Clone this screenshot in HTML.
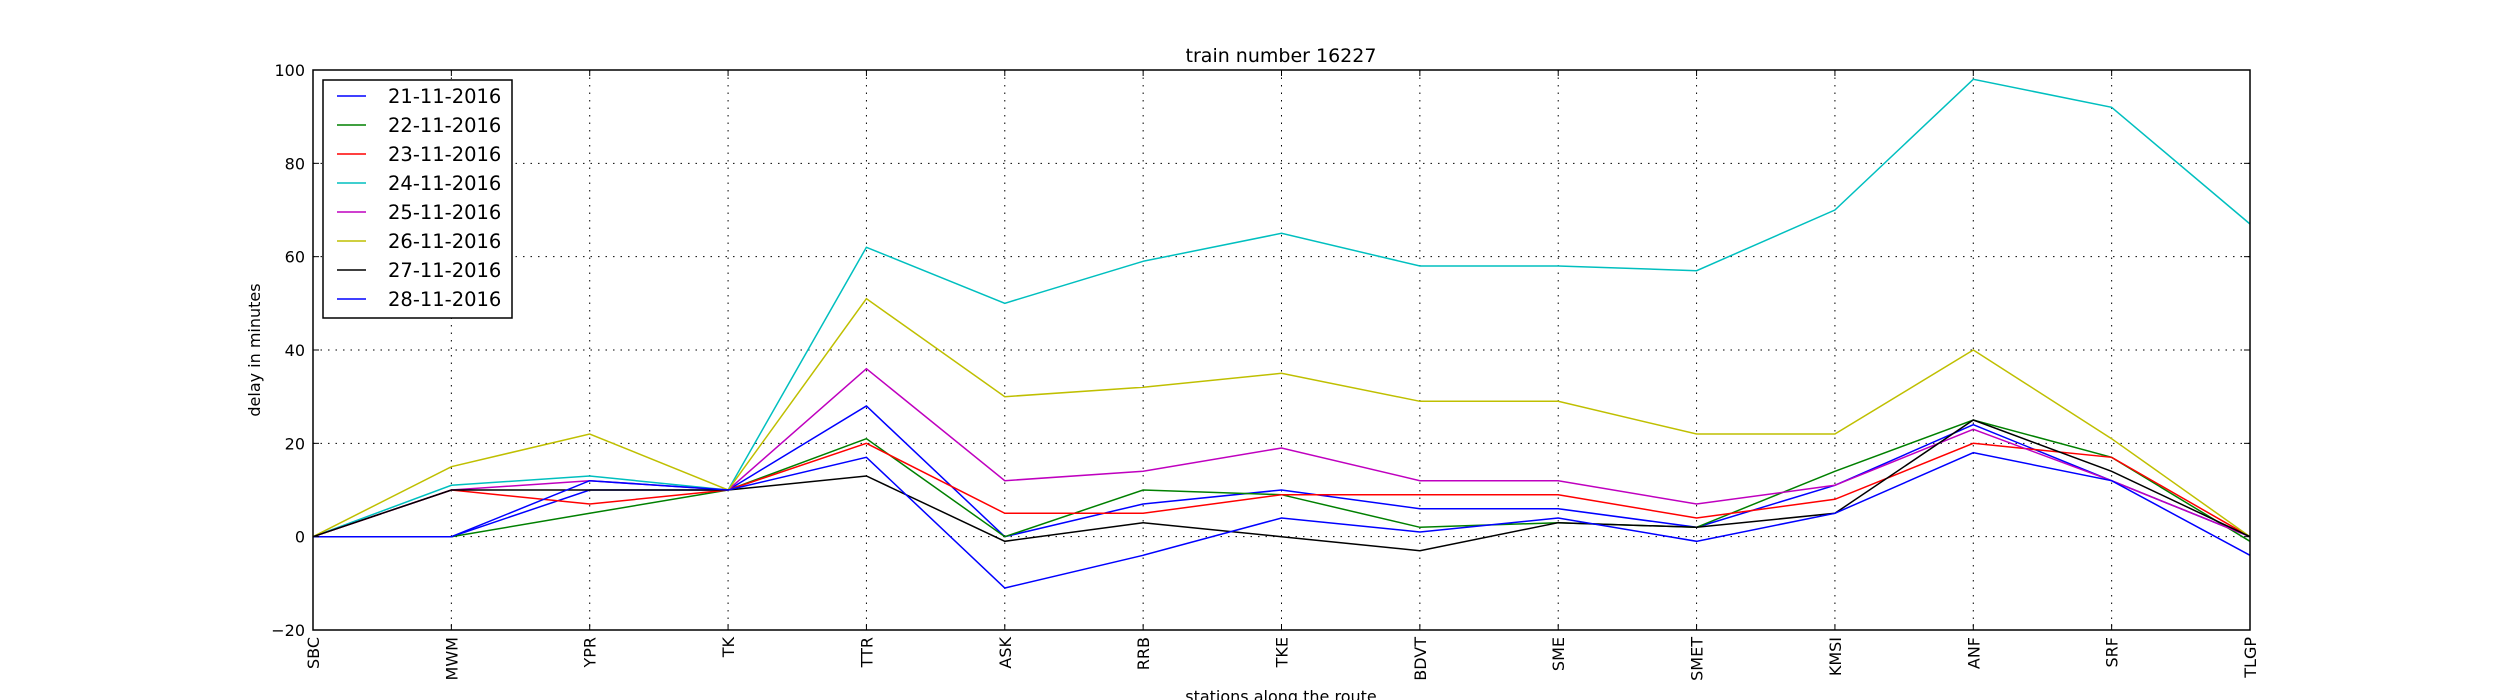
<!DOCTYPE html>
<html><head><meta charset="utf-8"><style>
html,body{margin:0;padding:0;background:#fff;}
svg{display:block;font-family:"DejaVu Sans","Liberation Sans",sans-serif;}
</style></head><body>
<svg id="chart" width="2500" height="700" viewBox="0 0 2500 700" xmlns="http://www.w3.org/2000/svg">
<rect x="0" y="0" width="2500" height="700" fill="#fff"/>
<g id="grid"></g>
<g id="series"></g>
<rect x="313" y="70" width="1937" height="560" fill="none" stroke="#000" stroke-width="1.5"/>
<g id="ticks"></g>
<text x="1281" y="62" font-size="19" text-anchor="middle">train number 16227</text>
<text x="0" y="0" font-size="16" text-anchor="middle" transform="translate(260,350) rotate(-90)">delay in minutes</text>
<text x="1281" y="702" font-size="16" text-anchor="middle">stations along the route</text>
<g id="legend"></g>
</svg>
<script>
const stations = ["SBC","MWM","YPR","TK","TTR","ASK","RRB","TKE","BDVT","SME","SMET","KMSI","ANF","SRF","TLGP"];
const dates = ["21-11-2016","22-11-2016","23-11-2016","24-11-2016","25-11-2016","26-11-2016","27-11-2016","28-11-2016"];
const colors = ["#0000ff","#008000","#ff0000","#00bfbf","#bf00bf","#bfbf00","#000000","#0000ff"];
const d21 = [0,0,10,10,28,0,7,10,6,6,2,11,24,12,0];
const d22 = [0,0,5,10,21,0,10,9,2,3,2,14,25,17,-1];
const d23 = [0,10,7,10,20,5,5,9,9,9,4,8,20,17,0];
const d24 = [0,11,13,10,62,50,59,65,58,58,57,70,98,92,67];
const d25 = [0,10,12,10,36,12,14,19,12,12,7,11,23,12,0];
const d26 = [0,15,22,10,51,30,32,35,29,29,22,22,40,21,0];
const d27 = [0,10,10,10,13,-1,3,0,-3,3,2,5,25,14,0];
const d28 = [0,0,12,10,17,-11,-4,4,1,4,-1,5,18,12,-4];
const yTicks = [-20,0,20,40,60,80,100];
const seriesList = [d21,d22,d23,d24,d25,d26,d27,d28];

const NS = "http://www.w3.org/2000/svg";
const L=313,R=2250,T=70,B=630,yMin=-20,yMax=100;
function xs(i){return L+(R-L)*i/(stations.length-1);}
function ys(v){return B-(v-yMin)/(yMax-yMin)*(B-T);}
function mk(tag,attrs,parent){const e=document.createElementNS(NS,tag);for(const k in attrs)e.setAttribute(k,attrs[k]);parent.appendChild(e);return e;}
const grid=document.getElementById('grid'),ticks=document.getElementById('ticks'),ser=document.getElementById('series'),leg=document.getElementById('legend');

stations.forEach((s,i)=>{
  const x=xs(i);
  const g=mk('line',{x1:x,x2:x,y1:T,y2:B,stroke:'#000','stroke-width':1,'stroke-dasharray':'1.5,6'},grid);
  
  
  const t1=mk('line',{x1:x,x2:x,y1:B,y2:B-6,stroke:'#000','stroke-width':1},ticks);
  
  
  const t2=mk('line',{x1:x,x2:x,y1:T,y2:T+6,stroke:'#000','stroke-width':1},ticks);
  
  
  const lb=mk('text',{'font-size':16,'text-anchor':'end',transform:`translate(${x+6},${B+7}) rotate(-90)`},ticks);
  lb.textContent=s;
  
  
});
yTicks.forEach(v=>{
  const y=ys(v);
  const g=mk('line',{x1:L,x2:R,y1:y,y2:y,stroke:'#000','stroke-width':1,'stroke-dasharray':'1.5,6'},grid);
  
  
  const t1=mk('line',{x1:L,x2:L+6,y1:y,y2:y,stroke:'#000','stroke-width':1},ticks);
  
  
  const t2=mk('line',{x1:R,x2:R-6,y1:y,y2:y,stroke:'#000','stroke-width':1},ticks);
  
  
  const lb=mk('text',{x:L-8,y:y+6,'font-size':16,'text-anchor':'end'},ticks);
  lb.textContent=(v<0?'\u2212'+Math.abs(v):String(v));
  
  
});
seriesList.forEach((arr,k)=>{
  const pts=arr.map((v,i)=>xs(i).toFixed(1)+','+ys(v).toFixed(1)).join(' ');
  const pl=mk('polyline',{points:pts,fill:'none',stroke:colors[k],'stroke-width':1.5},ser);
  
  
});
const box=mk('rect',{x:323,y:80,width:189,height:238,fill:'#fff',stroke:'#000','stroke-width':1.5},leg);


dates.forEach((d,k)=>{
  const y=96+k*29;
  const ln=mk('line',{x1:337,x2:366,y1:y,y2:y,stroke:colors[k],'stroke-width':1.5},leg);
  
  
  const tx=mk('text',{x:388,y:y+7,'font-size':19.5},leg);
  tx.textContent=d;
  
  
});
</script>
</body></html>
